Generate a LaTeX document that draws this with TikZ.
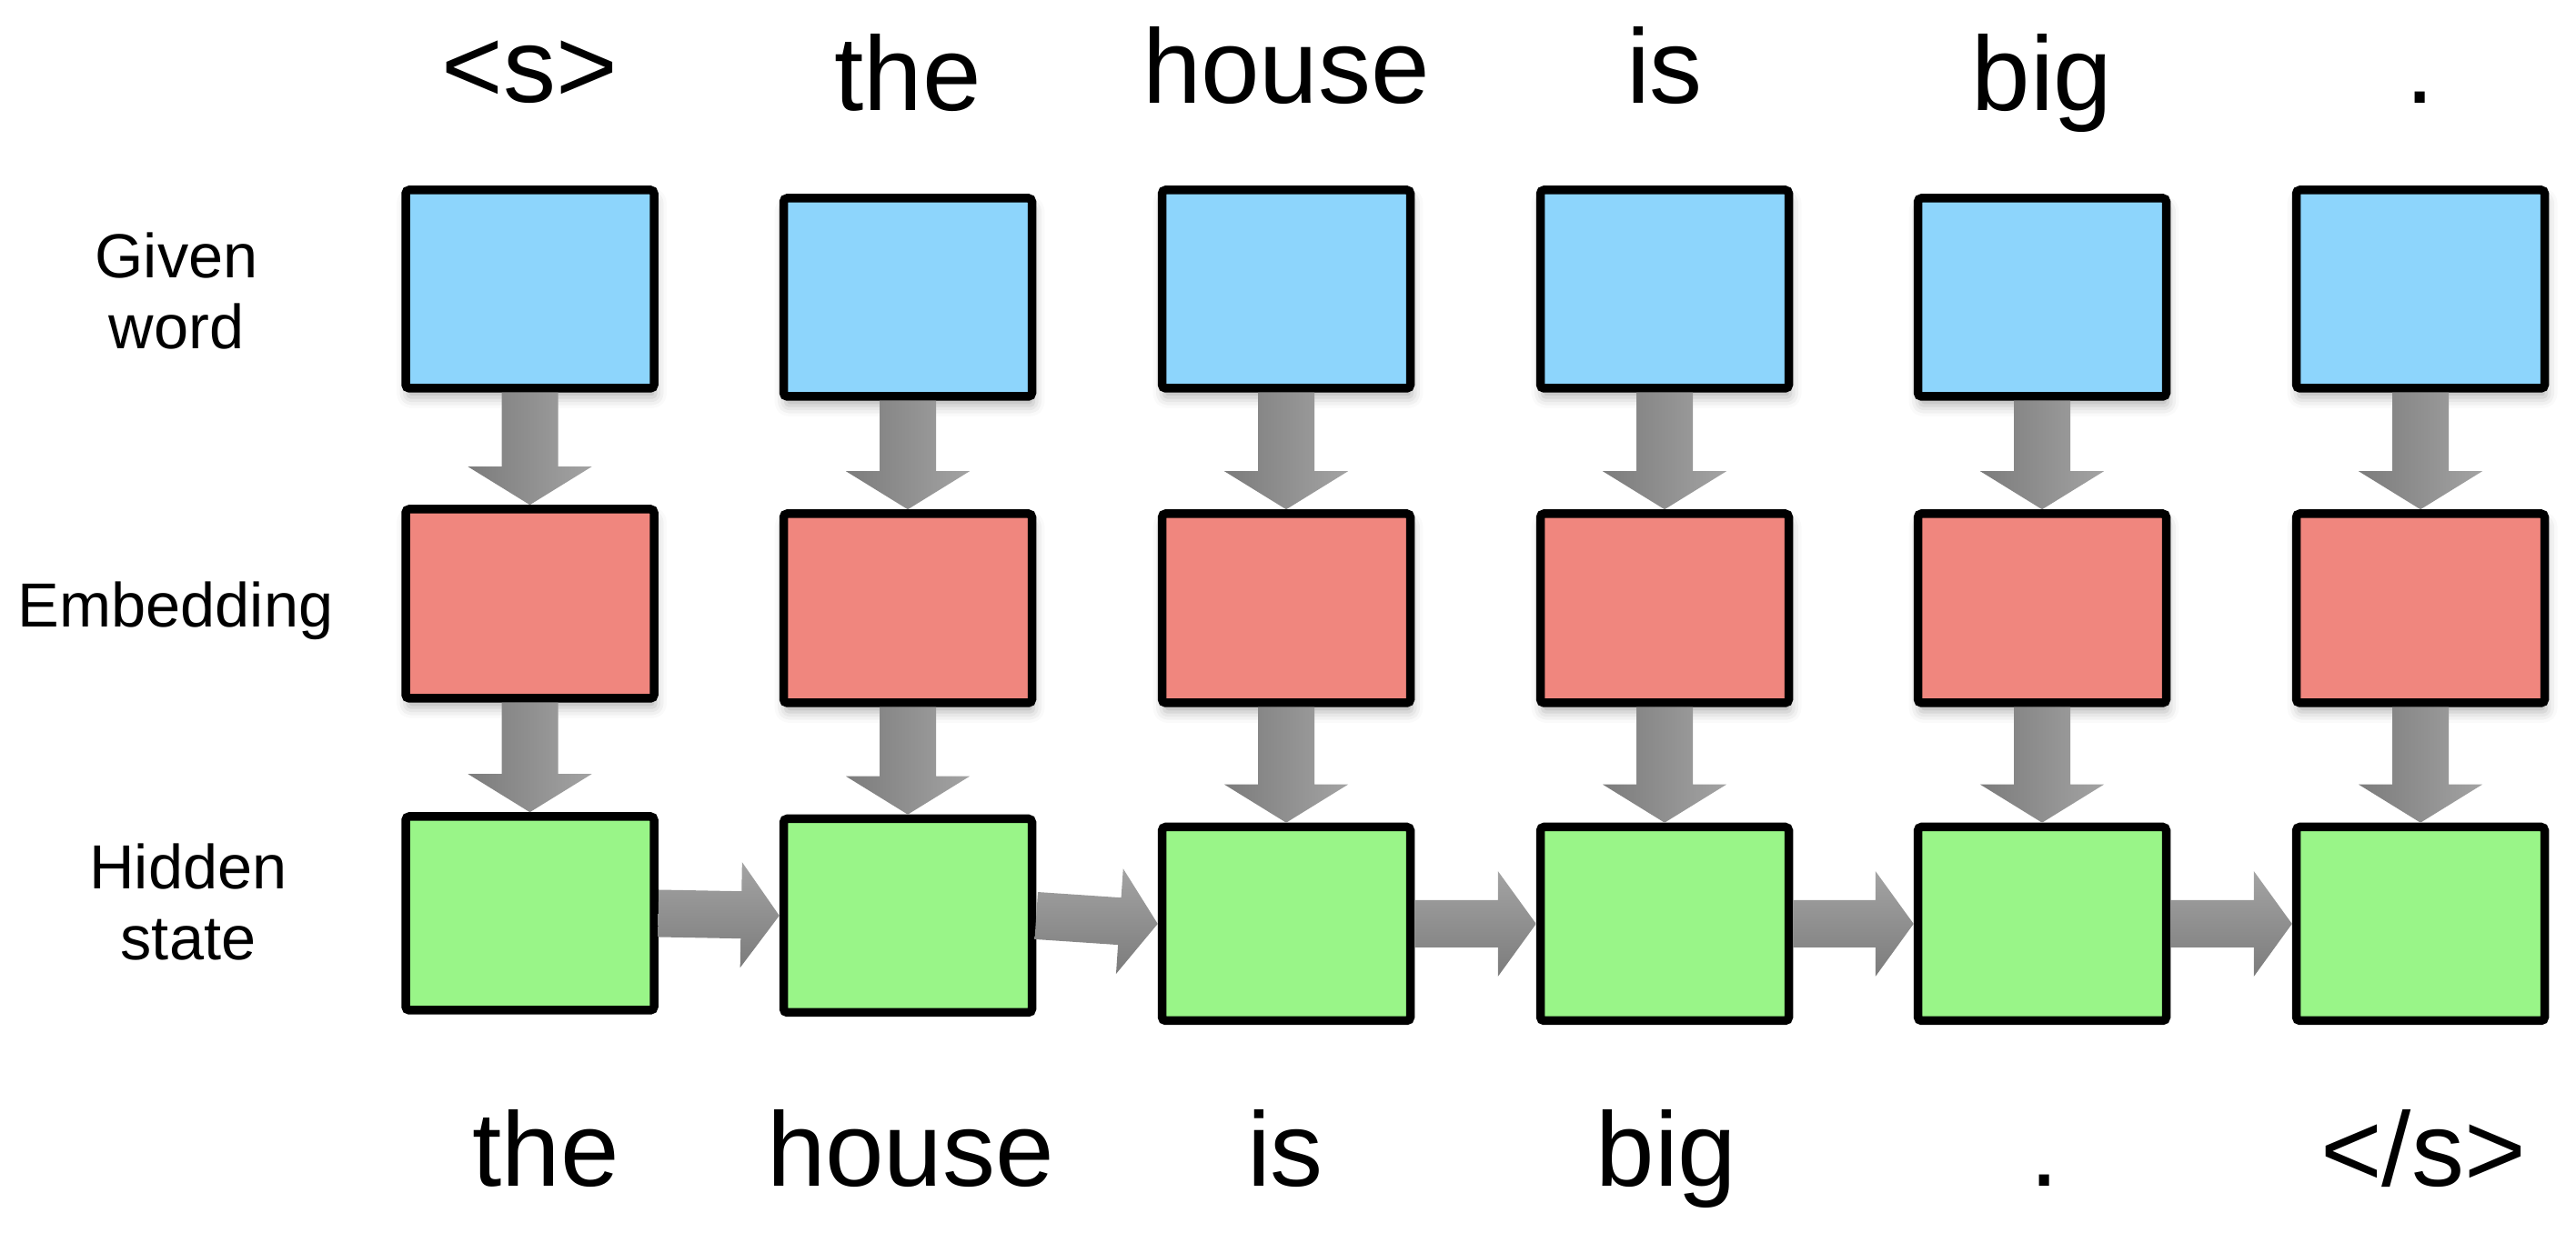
\documentclass[tikz,border=0pt]{standalone}
\usepackage{fontspec}
\setmainfont{Liberation Sans}
\usepackage{xcolor}
\usepackage{tikz}
\usetikzlibrary{calc}
\usetikzlibrary{shadows.blur}
\definecolor{givenBlue}{HTML}{8DD5FC}
\definecolor{embedRed}{HTML}{F0867E}
\definecolor{hiddenGreen}{HTML}{99F588}
\definecolor{arrowDark}{HTML}{7C7C7C}
\definecolor{arrowLight}{HTML}{A3A3A3}
\tikzset{rnn-box/.style={draw, line width=0.095cm, rounded corners=0.04cm, minimum width=2.73cm, inner sep=0}}
\tikzset{soft-shadow/.style={blur shadow={shadow xshift=0.02cm, shadow yshift=-0.1cm, shadow blur radius=0.12cm, shadow opacity=30}}}
\tikzset{given-box/.style={rnn-box, fill=givenBlue, minimum height=2.18cm, soft-shadow}}
\tikzset{embed-box/.style={rnn-box, fill=embedRed, minimum height=2.08cm, soft-shadow}}
\tikzset{hidden-box/.style={rnn-box, fill=hiddenGreen, minimum height=2.13cm}}
\tikzset{word-label/.style={font=\fontsize{33}{40}\selectfont, anchor=base, inner sep=0}}
\tikzset{side-label/.style={font=\fontsize{19.5}{22}\selectfont, align=center, inner sep=0}}
\tikzset{down-shade/.style={left color=arrowDark, right color=arrowLight}}
\tikzset{right-shade/.style={top color=arrowLight, bottom color=arrowDark}}
% block arrow: from, to, half shaft, half head, shading
\newcommand{\blockarrow}[5]{
    \coordinate (headbase) at ($(#2)!0.42cm!(#1)$);
    \shade[#5] ($(#1)!#3!90:(#2)$) -- ($(headbase)!#3!-90:(#1)$)
        -- ($(headbase)!#4!-90:(#1)$) -- (#2) -- ($(headbase)!#4!90:(#1)$)
        -- ($(headbase)!#3!90:(#1)$) -- ($(#1)!#3!-90:(#2)$) -- cycle;
}
% one time step: index, x, given y, embed y, hidden y, input, input y, output, output x
\newcommand{\wordcolumn}[9]{
    \node[given-box] (given#1) at (#2, #3) {};
    \node[embed-box] (embed#1) at (#2, #4) {};
    \node[hidden-box] (hidden#1) at (#2, #5) {};
    \node[word-label] (input#1) at (#2, #7) {#6};
    \node[word-label] (output#1) at (#9, 0.73) {#8};

    \blockarrow{given#1.south}{embed#1.north}{0.31cm}{0.68cm}{down-shade}
    \blockarrow{embed#1.south}{hidden#1.north}{0.31cm}{0.68cm}{down-shade}
}
\begin{document}
\begin{tikzpicture}[]
    \useasboundingbox (0,0) rectangle (28.32,13.78);

    \node[side-label] (given-label) at (1.94, 10.58) {Given\\word};
    \node[side-label, anchor=base] (embed-label) at (1.93, 6.88) {Embedding};
    \node[side-label] (hidden-label) at (2.07, 3.86) {Hidden\\state};

    \wordcolumn{1}{5.825}{10.60}{7.14}{3.735}{<s>}{12.65}{the}{6.00}
    \wordcolumn{2}{9.98}{10.51}{7.09}{3.71}{the}{12.56}{house}{10.01}
    \wordcolumn{3}{14.14}{10.60}{7.09}{3.62}{house}{12.64}{is}{14.13}
    \wordcolumn{4}{18.30}{10.60}{7.09}{3.62}{is}{12.64}{big}{18.32}
    \wordcolumn{5}{22.45}{10.51}{7.09}{3.62}{big}{12.56}{.}{22.48}
    \wordcolumn{6}{26.61}{10.60}{7.09}{3.62}{.}{12.64}{</s>}{26.64}

    \blockarrow{hidden1.east}{hidden2.west}{0.26cm}{0.58cm}{right-shade}
    \blockarrow{hidden2.east}{hidden3.west}{0.26cm}{0.58cm}{right-shade}
    \blockarrow{hidden3.east}{hidden4.west}{0.26cm}{0.58cm}{right-shade}
    \blockarrow{hidden4.east}{hidden5.west}{0.26cm}{0.58cm}{right-shade}
    \blockarrow{hidden5.east}{hidden6.west}{0.26cm}{0.58cm}{right-shade}
\end{tikzpicture}
\end{document}
